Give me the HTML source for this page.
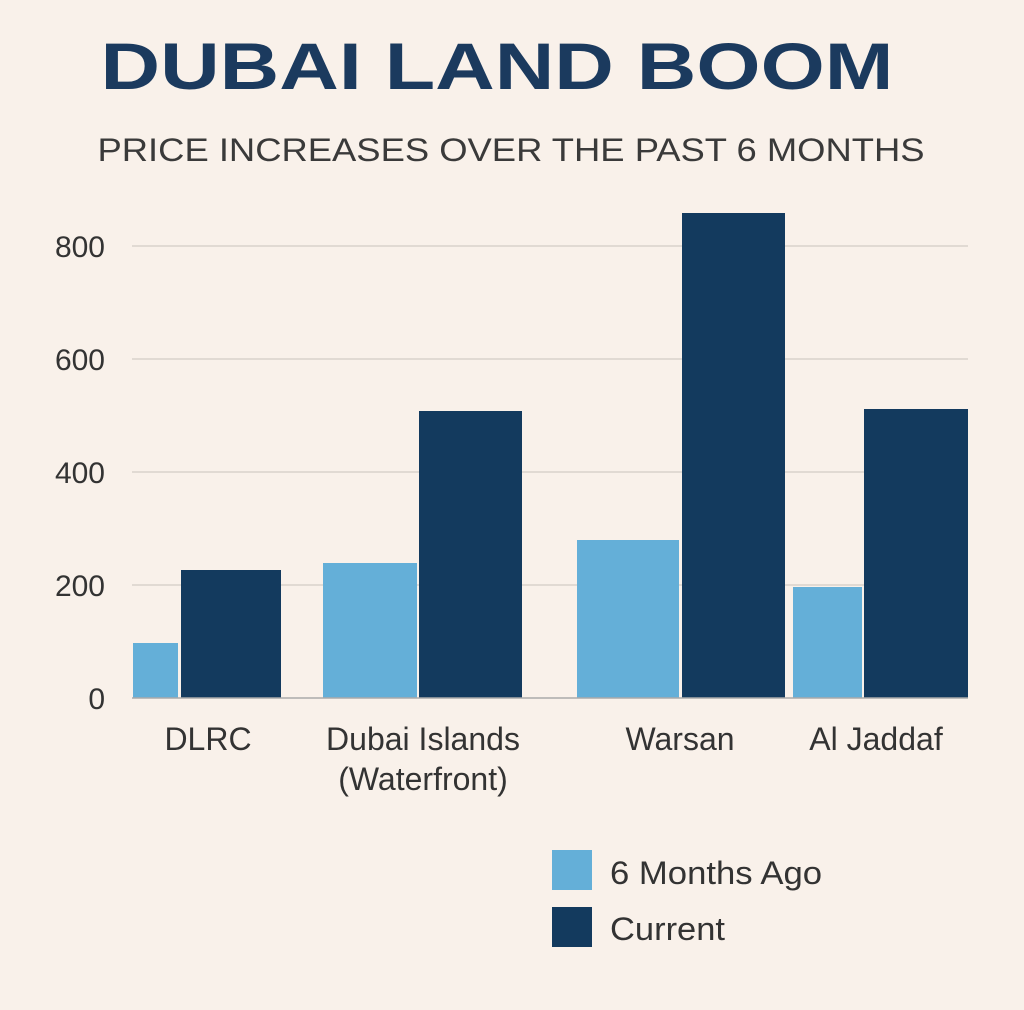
<!DOCTYPE html>
<html><head><meta charset="utf-8"><style>
html,body{margin:0;padding:0;background:#f9f1ea;}
body{width:1024px;height:1010px;overflow:hidden;position:relative;font-family:"Liberation Sans",sans-serif;}
</style></head><body>
<svg width="1024" height="1010" viewBox="0 0 1024 1010" xmlns="http://www.w3.org/2000/svg" style="position:absolute;left:0;top:0">
<rect width="1024" height="1010" fill="#f9f1ea"/>
<text x="497" y="89" text-anchor="middle" font-family="Liberation Sans, sans-serif" font-weight="bold" font-size="66" fill="#1b3a5e" textLength="793" lengthAdjust="spacingAndGlyphs">DUBAI LAND BOOM</text>
<text x="511" y="161" text-anchor="middle" font-family="Liberation Sans, sans-serif" font-size="32" fill="#3a3a3a" textLength="827" lengthAdjust="spacingAndGlyphs">PRICE INCREASES OVER THE PAST 6 MONTHS</text>
<g stroke="#d9d2cb" stroke-width="1.5">
<line x1="132" y1="246" x2="968" y2="246"/>
<line x1="132" y1="359" x2="968" y2="359"/>
<line x1="132" y1="472" x2="968" y2="472"/>
<line x1="132" y1="585" x2="968" y2="585"/>
</g>
<g font-family="Liberation Sans, sans-serif" font-size="30" fill="#333" text-anchor="end">
<text x="105" y="257">800</text>
<text x="105" y="370">600</text>
<text x="105" y="483">400</text>
<text x="105" y="596">200</text>
<text x="105" y="709">0</text>
</g>
<g fill="#64afd8">
<rect x="133" y="643" width="45" height="55"/>
<rect x="323" y="563" width="94" height="135"/>
<rect x="577" y="540" width="102" height="158"/>
<rect x="793" y="587" width="69" height="111"/>
</g>
<g fill="#133a5e">
<rect x="181" y="570" width="100" height="128"/>
<rect x="419" y="411" width="103" height="287"/>
<rect x="682" y="213" width="103" height="485"/>
<rect x="864" y="409" width="104" height="289"/>
</g>
<line x1="132" y1="698" x2="968" y2="698" stroke="#aaa" stroke-width="1.5"/>
<g font-family="Liberation Sans, sans-serif" font-size="32" fill="#333" text-anchor="middle">
<text x="208" y="750">DLRC</text>
<text x="423" y="750">Dubai Islands</text>
<text x="423" y="790">(Waterfront)</text>
<text x="680" y="750">Warsan</text>
<text x="876" y="750">Al Jaddaf</text>
</g>
<rect x="552" y="850" width="40" height="40" fill="#64afd8"/>
<rect x="552" y="907" width="40" height="40" fill="#133a5e"/>
<g font-family="Liberation Sans, sans-serif" font-size="32" fill="#333">
<text x="610" y="884" textLength="212" lengthAdjust="spacingAndGlyphs">6 Months Ago</text>
<text x="610" y="940" textLength="115" lengthAdjust="spacingAndGlyphs">Current</text>
</g>
</svg>
</body></html>
